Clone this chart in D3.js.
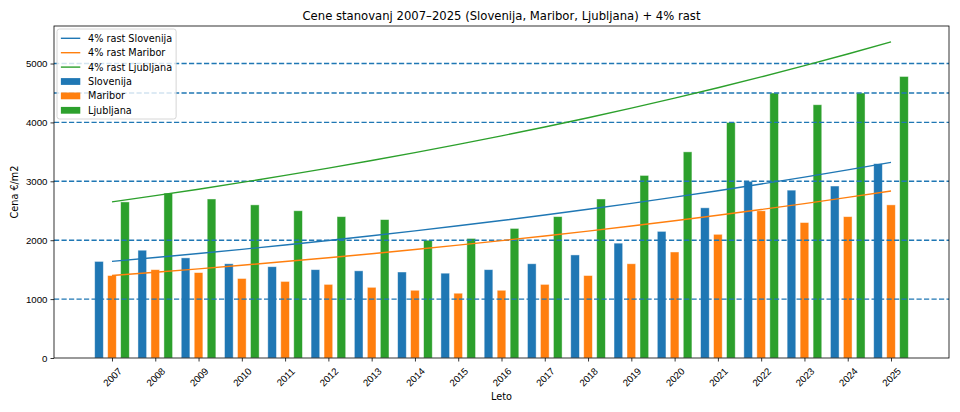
<!DOCTYPE html>
<html lang="sl">
  <head>
    <meta charset="UTF-8" />
    <title>Cene stanovanj</title>
    <style>
      body { margin: 0; background: #fff; }
      svg { font-family: "DejaVu Sans", sans-serif; }
    </style>
  </head>
  <body>
    <svg id="chart" width="960" height="412"></svg>
  </body>
  <script src="https://cdn.jsdelivr.net/npm/d3@7"></script>
  <script>
    // data
    const years = [2007, 2008, 2009, 2010, 2011, 2012, 2013, 2014, 2015, 2016, 2017, 2018, 2019, 2020, 2021, 2022, 2023, 2024, 2025];
    const slovenija = [1640, 1830, 1700, 1600, 1550, 1500, 1480, 1460, 1440, 1500, 1600, 1750, 1950, 2150, 2550, 3000, 2850, 2920, 3300];
    const maribor = [1400, 1500, 1450, 1350, 1300, 1250, 1200, 1150, 1100, 1150, 1250, 1400, 1600, 1800, 2100, 2500, 2300, 2400, 2600];
    const ljubljana = [2650, 2800, 2700, 2600, 2500, 2400, 2350, 2000, 2030, 2200, 2400, 2700, 3100, 3500, 4000, 4500, 4300, 4500, 4780];
    // 4% growth lines
    const rastSlovenija = [1640, 1706, 1774, 1845, 1919, 1995, 2075, 2158, 2245, 2334, 2428, 2525, 2626, 2731, 2840, 2954, 3072, 3195, 3322];
    const rastMaribor = [1400, 1456, 1514, 1575, 1638, 1703, 1771, 1842, 1916, 1993, 2072, 2155, 2241, 2331, 2424, 2521, 2622, 2727, 2836];
    const rastLjubljana = [2650, 2756, 2866, 2981, 3100, 3224, 3353, 3487, 3627, 3772, 3923, 4080, 4243, 4412, 4589, 4773, 4963, 5162, 5368];
    const refLevels = [1000, 2000, 3000, 4000, 4500, 5000];
    const yTicks = [0, 1000, 2000, 3000, 4000, 5000];

    const blue = "#1f77b4", orange = "#ff7f0e", green = "#2ca02c";
    const fs = 9.7; // base font size

    const svg = d3.select("#chart");
    const mLeft = 54, mRight = 949, mTop = 26, mBottom = 358;

    const x = d3.scaleLinear().domain([2005.66, 2026.34]).range([mLeft, mRight]);
    const y = d3.scaleLinear().domain([0, 5637]).range([mBottom, mTop]);
    const barW = x(2007.2) - x(2007);

    // bars
    const groups = [
      { name: "Slovenija", values: slovenija, color: blue, off: -0.3 },
      { name: "Maribor", values: maribor, color: orange, off: 0 },
      { name: "Ljubljana", values: ljubljana, color: green, off: 0.3 }
    ];
    groups.forEach((g) => {
      svg.append("g").selectAll("rect")
        .data(years)
        .enter()
        .append("rect")
        .attr("x", (d) => x(d + g.off) - barW / 2)
        .attr("y", (d, i) => y(g.values[i]))
        .attr("width", barW)
        .attr("height", (d, i) => y(0) - y(g.values[i]))
        .attr("fill", g.color)
        .attr("stroke", "rgba(255,255,255,0.55)")
        .attr("stroke-width", 0.8);
    });

    // dashed reference lines
    svg.append("g").selectAll("line")
      .data(refLevels)
      .enter()
      .append("line")
      .attr("x1", mLeft).attr("x2", mRight)
      .attr("y1", (d) => y(d)).attr("y2", (d) => y(d))
      .attr("stroke", blue)
      .attr("stroke-width", 1.4)
      .attr("stroke-dasharray", "5.2,2.3");

    // growth lines
    const lines = [
      { name: "4% rast Slovenija", values: rastSlovenija, color: blue },
      { name: "4% rast Maribor", values: rastMaribor, color: orange },
      { name: "4% rast Ljubljana", values: rastLjubljana, color: green }
    ];
    lines.forEach((l) => {
      svg.append("path")
        .datum(years)
        .attr("fill", "none")
        .attr("stroke", l.color)
        .attr("stroke-width", 1.4)
        .attr("d", d3.line().x((d) => x(d)).y((d, i) => y(l.values[i])));
    });

    // axes
    const xAxis = d3.axisBottom(x).tickValues(years).tickSize(3.5).tickPadding(3).tickFormat(d3.format("d"));
    const gx = svg.append("g").attr("transform", `translate(0,${mBottom})`).call(xAxis);
    gx.select(".domain").remove();
    gx.selectAll("text")
      .attr("font-size", fs)
      .attr("fill", "#000")
      .attr("text-anchor", "middle")
      .attr("dy", null)
      .attr("y", 0)
      .attr("dominant-baseline", "central")
      .attr("transform", "translate(0,19) rotate(-45)");
    gx.selectAll("line").attr("stroke", "#000").attr("stroke-width", 0.8);

    const yAxis = d3.axisLeft(y).tickValues(yTicks).tickSize(3.5).tickPadding(3).tickFormat(d3.format("d"));
    const gy = svg.append("g").attr("transform", `translate(${mLeft},0)`).call(yAxis);
    gy.select(".domain").remove();
    gy.selectAll("text").attr("font-size", fs).attr("fill", "#000");
    gy.selectAll("line").attr("stroke", "#000").attr("stroke-width", 0.8);

    // frame
    svg.append("rect")
      .attr("x", mLeft).attr("y", mTop)
      .attr("width", mRight - mLeft).attr("height", mBottom - mTop)
      .attr("fill", "none").attr("stroke", "#000").attr("stroke-width", 0.8);

    // labels
    svg.append("text").attr("x", (mLeft + mRight) / 2).attr("y", 20)
      .attr("text-anchor", "middle").attr("font-size", fs * 1.2).text("Cene stanovanj 2007–2025 (Slovenija, Maribor, Ljubljana) + 4% rast");
    svg.append("text").attr("x", (mLeft + mRight) / 2).attr("y", 400)
      .attr("text-anchor", "middle").attr("font-size", fs).text("Leto");
    svg.append("text").attr("transform", `translate(18,${(mTop + mBottom) / 2}) rotate(-90)`)
      .attr("text-anchor", "middle").attr("font-size", fs).text("Cena €/m2");

    // legend
    const legend = svg.append("g").attr("transform", "translate(57,29)");
    const box = legend.append("rect").attr("height", 90).attr("rx", 2.5)
      .attr("fill", "rgba(255,255,255,0.8)").attr("stroke", "#ccc").attr("stroke-width", 0.8);
    const entries = lines.map((l) => ({ label: l.name, color: l.color, kind: "line" }))
      .concat(groups.map((g) => ({ label: g.name, color: g.color, kind: "patch" })));
    const hx = 0.4 * fs, hl = 2 * fs, tx = hx + hl + 0.8 * fs;
    let maxW = 0;
    entries.forEach((e, i) => {
      const yy = 9.3 + i * 14.4;
      if (e.kind === "line") {
        legend.append("line").attr("x1", hx).attr("x2", hx + hl).attr("y1", yy).attr("y2", yy)
          .attr("stroke", e.color).attr("stroke-width", 1.4);
      } else {
        legend.append("rect").attr("x", hx).attr("y", yy - 0.35 * fs).attr("width", hl).attr("height", 0.7 * fs)
          .attr("fill", e.color);
      }
      const t = legend.append("text").attr("x", tx).attr("y", yy).attr("dominant-baseline", "central")
        .attr("font-size", fs).text(e.label);
      maxW = Math.max(maxW, t.node().getComputedTextLength());
    });
    box.attr("width", tx + maxW + 0.4 * fs);
  </script>
</html>
